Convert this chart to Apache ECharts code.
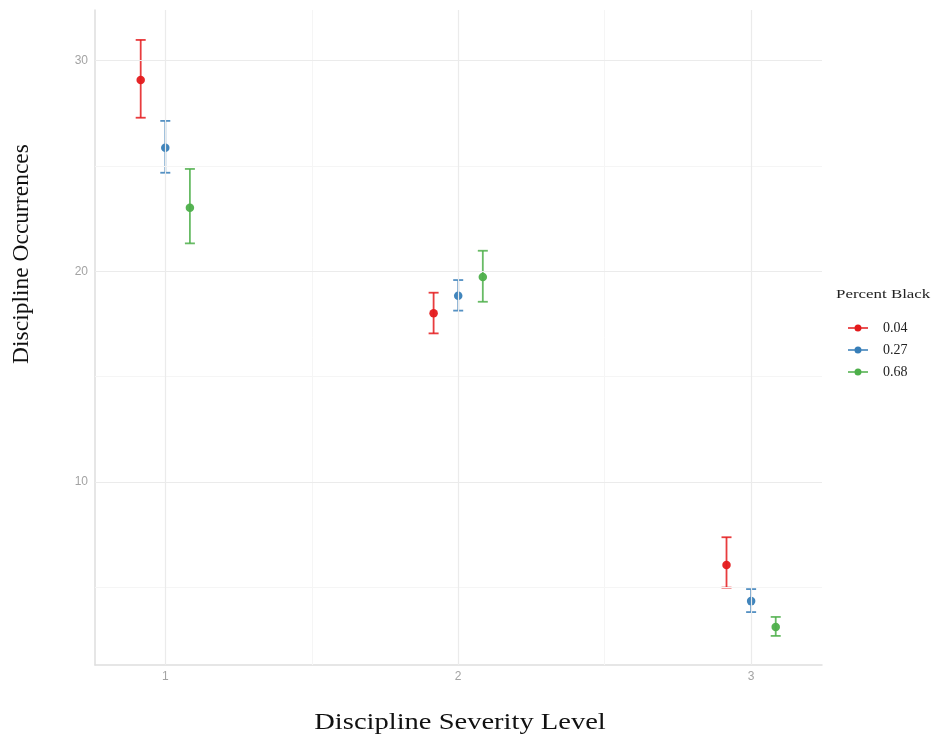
<!DOCTYPE html>
<html>
<head>
<meta charset="utf-8">
<script src="https://cdn.jsdelivr.net/npm/echarts@6/dist/echarts.min.js"></script>
<style>html,body{margin:0;padding:0;background:#fff}#c{width:934px;height:740px}</style>
</head>
<body>
<div id="c"></div>
<script>
// ---- data ----
const severity = [1, 2, 3];
const groups = ['0.04', '0.27', '0.68'];
const mean004 = [29.07, 18.00, 6.06];
const low004  = [27.28, 17.05, 4.99];
const high004 = [30.97, 18.98, 7.38];
const mean027 = [25.86, 18.84, 4.35];
const low027  = [24.67, 18.13, 3.83];
const high027 = [27.13, 19.58, 4.92];
const mean068 = [23.01, 19.72, 3.12];
const low068  = [21.32, 18.55, 2.70];
const high068 = [24.85, 20.97, 3.60];
const xTickLabels = [1, 2, 3];
const yTickLabels = [10, 20, 30];
const xMinorGrid = [1.5, 2.5];
const yMinorGrid = [5, 15, 25];

// ---- style ----
const colors = ['#E41A1C', '#377EB8', '#4DAF4A'];
const dodge = [-0.084, 0, 0.084];
const means = [mean004, mean027, mean068];
const lows = [low004, low027, low068];
const highs = [high004, high027, high068];
const serif = '"Liberation Serif", "DejaVu Serif", serif';

const chart = echarts.init(document.getElementById('c'), null, {renderer: 'canvas'});

const series = [];
series.push({
  type: 'line', data: [], silent: true, name: '__grid',
  markLine: {
    silent: true, symbol: 'none', label: {show: false}, animation: false,
    data: [
      ...xMinorGrid.map(v => ({xAxis: v, lineStyle: {color: '#f5f5f5', width: 1, type: 'solid'}})),
      ...yMinorGrid.map(v => ({yAxis: v, lineStyle: {color: '#f5f5f5', width: 1, type: 'solid'}})),
      ...xTickLabels.map(v => ({xAxis: v, lineStyle: {color: '#ebebeb', width: 1.2, type: 'solid'}})),
      ...yTickLabels.map(v => ({yAxis: v, lineStyle: {color: '#ebebeb', width: 1.2, type: 'solid'}}))
    ]
  }
});

groups.forEach((g, gi) => {
  series.push({
    name: g, type: 'custom', z: 3,
    renderItem: function (params, api) {
      const x = api.value(0);
      const p1 = api.coord([x, api.value(1)]);
      const p2 = api.coord([x, api.value(2)]);
      const hw = 5;
      const st = {stroke: colors[gi], lineWidth: 1.8, opacity: 0.85};
      return {type: 'group', children: [
        {type: 'line', shape: {x1: p1[0], y1: p1[1], x2: p2[0], y2: p2[1]}, style: st},
        {type: 'line', shape: {x1: p1[0] - hw, y1: p1[1], x2: p1[0] + hw, y2: p1[1]}, style: st},
        {type: 'line', shape: {x1: p2[0] - hw, y1: p2[1], x2: p2[0] + hw, y2: p2[1]}, style: st}
      ]};
    },
    data: severity.map((s, i) => [s + dodge[gi], lows[gi][i], highs[gi][i]])
  });
  series.push({
    name: g, type: 'scatter', z: 4,
    symbol: 'circle', symbolSize: 8.5,
    itemStyle: {color: colors[gi], opacity: 0.95},
    data: severity.map((s, i) => [s + dodge[gi], means[gi][i]])
  });
});

const legendIcon = 'path://M0,3.3L20,3.3L20,4.7L0,4.7Z M10,0.5A3.5,3.5 0 1 1 9.99,0.5Z';

chart.setOption({
  animation: false,
  backgroundColor: '#ffffff',
  grid: {left: 95, right: 112, top: 10, bottom: 75, containLabel: false},
  xAxis: {
    type: 'value', min: 0.76, max: 3.242,
    axisLine: {show: true, onZero: false, lineStyle: {color: '#dedede', width: 1.5}},
    axisTick: {show: false},
    splitLine: {show: false},
    axisLabel: {customValues: xTickLabels, color: '#a3a3a3', fontSize: 12, margin: 6,
      fontFamily: '"Liberation Sans", Arial, sans-serif'}
  },
  yAxis: {
    type: 'value', min: 1.32, max: 32.39,
    axisLine: {show: true, onZero: false, lineStyle: {color: '#dedede', width: 1.5}},
    axisTick: {show: false},
    splitLine: {show: false},
    axisLabel: {customValues: yTickLabels, color: '#a3a3a3', fontSize: 12, margin: 7,
      fontFamily: '"Liberation Sans", Arial, sans-serif'}
  },
  legend: {
    data: groups.map((g, gi) => ({name: g, icon: legendIcon, itemStyle: {color: colors[gi]}})),
    orient: 'vertical', left: 843, top: 316,
    itemWidth: 20, itemHeight: 8, itemGap: 8,
    textStyle: {fontFamily: serif, fontSize: 14, color: '#222', padding: [0, 0, 0, 10]},
    selectedMode: false
  },
  graphic: [
    {type: 'text', x: 836, y: 295, scaleX: 1.3,
      style: {text: 'Percent Black', font: '13px ' + serif, fill: '#222', align: 'left', verticalAlign: 'middle'}},
    {type: 'text', x: 22, y: 254, rotation: Math.PI / 2,
      style: {text: 'Discipline Occurrences', font: '23.5px ' + serif, fill: '#111', align: 'center', verticalAlign: 'middle'}},
    {type: 'text', x: 460, y: 723, scaleX: 1.24,
      style: {text: 'Discipline Severity Level', font: '23px ' + serif, fill: '#111', align: 'center', verticalAlign: 'middle'}}
  ],
  series: series
});
</script>
</body>
</html>
